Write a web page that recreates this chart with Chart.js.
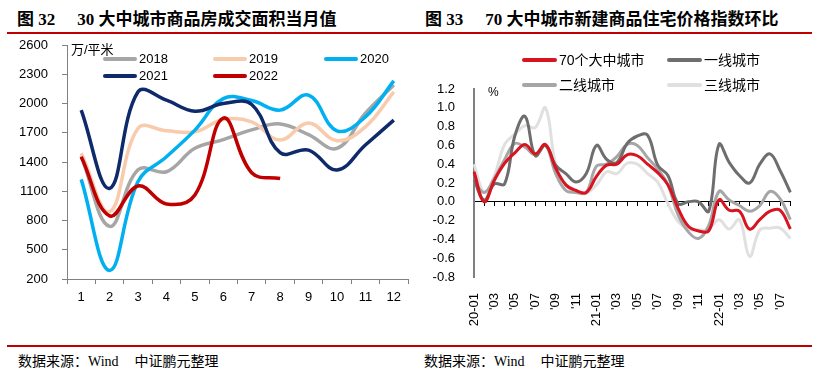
<!DOCTYPE html>
<html>
<head>
<meta charset="utf-8">
<script src="https://cdn.jsdelivr.net/npm/chart.js@4.4.0/dist/chart.umd.min.js"></script>
<style>
  body { margin: 0; background: #fff; width: 814px; height: 377px; position: relative; overflow: hidden;
         font-family: 'Liberation Sans', 'Noto Sans CJK SC', sans-serif; }
  canvas { position: absolute; top: 0; }
  .title { position: absolute; top: 5px; font: bold 17px 'Liberation Serif', 'Noto Sans CJK SC', serif; color: #000; white-space: nowrap; }
  .title span { margin-right: 22px; }
  .rule { position: absolute; height: 2px; background: #c00000; }
  .src { position: absolute; top: 350px; font: 14px 'Liberation Serif', 'Noto Sans CJK SC', serif; color: #000; white-space: nowrap; }
  .src b { font-weight: normal; margin-left: 16px; }
  .unit { position: absolute; font-size: 13px; color: #000; }
  .lg { position: absolute; font-size: 13px; color: #000; white-space: nowrap; line-height: 16px; }
  .lg i { display: inline-block; width: 34px; height: 4px; border-radius: 2px; vertical-align: middle; margin-right: 2px; position: relative; top: -1px; }
  .lg2 { font-size: 14px; }
  .lg2 i { width: 35px; }
</style>
</head>
<body>
<div class="title" style="left:17px"><span>图 32</span>30 大中城市商品房成交面积当月值</div>
<div class="title" style="left:425px"><span>图 33</span>70 大中城市新建商品住宅价格指数环比</div>
<div class="rule" style="left:7px; width:805px; top:32px"></div>
<div class="rule" style="left:7px; width:805px; top:345px"></div>
<div class="src" style="left:18px">数据来源：Wind<b>中证鹏元整理</b></div>
<div class="src" style="left:424px">数据来源：Wind<b>中证鹏元整理</b></div>

<canvas id="chart-area" width="410" height="340" style="left:0"></canvas>
<canvas id="chart-price" width="404" height="340" style="left:410px"></canvas>

<div class="unit" style="left:71px; top:39px">万/平米</div>
<div class="lg" style="left:103px; top:51px"><i style="background:#a6a6a6"></i>2018</div>
<div class="lg" style="left:213px; top:51px"><i style="background:#f8cbad"></i>2019</div>
<div class="lg" style="left:324px; top:51px"><i style="background:#00b0f0"></i>2020</div>
<div class="lg" style="left:103px; top:68px"><i style="background:#0e2a6b"></i>2021</div>
<div class="lg" style="left:213px; top:68px"><i style="background:#c00000"></i>2022</div>

<div class="unit" style="left:488px; top:85px; font-size:12px">%</div>
<div class="lg lg2" style="left:522px; top:52px"><i style="background:#d7141f"></i>70个大中城市</div>
<div class="lg lg2" style="left:667px; top:52px"><i style="background:#6e6e6e"></i>一线城市</div>
<div class="lg lg2" style="left:522px; top:77px"><i style="background:#a6a6a6"></i>二线城市</div>
<div class="lg lg2" style="left:667px; top:77px"><i style="background:#e0e0e0"></i>三线城市</div>

<script>
// 图32 数据 (万平米)
const months = ['1', '2', '3', '4', '5', '6', '7', '8', '9', '10', '11', '12'];
const area2018 = [1460, 740, 1320, 1300, 1540, 1630, 1730, 1790, 1680, 1540, 1900, 2190];
const area2019 = [1490, 890, 1745, 1720, 1710, 1836, 1812, 1625, 1800, 1618, 1760, 2120];
const area2020 = [1222, 288, 1200, 1454, 1727, 2050, 2030, 1932, 2085, 1720, 1863, 2232];
const area2021 = [1932, 1130, 2120, 2034, 1921, 2000, 1990, 1495, 1522, 1318, 1574, 1829];
const area2022 = [1454, 847, 1154, 970, 1062, 1850, 1290, 1230];
const areaTicks = [200, 500, 800, 1100, 1400, 1700, 2000, 2300, 2600];

// 图33 数据 (%)
const priceMonths = ['20-01', '20-02', '20-03', '20-04', '20-05', '20-06', '20-07', '20-08', '20-09', '20-10', '20-11', '20-12',
    '21-01', '21-02', '21-03', '21-04', '21-05', '21-06', '21-07', '21-08', '21-09', '21-10', '21-11', '21-12',
    '22-01', '22-02', '22-03', '22-04', '22-05', '22-06', '22-07', '22-08'];
const priceTickLabels = ['20-01', '', "'03", '', "'05", '', "'07", '', "'09", '', "'11", '',
    '21-01', '', "'03", '', "'05", '', "'07", '', "'09", '', "'11", '',
    '22-01', '', "'03", '', "'05", '', "'07", ''];
const city70 = [0.32, 0.00, 0.23, 0.41, 0.52, 0.61, 0.51, 0.61, 0.36, 0.18, 0.12, 0.10, 0.27, 0.39, 0.40, 0.50,
    0.49, 0.40, 0.31, 0.18, -0.07, -0.26, -0.31, -0.31, 0.02, -0.09, -0.10, -0.29, -0.19, -0.10, -0.09, -0.29];
const tier1 = [0.23, 0.02, 0.19, 0.19, 0.70, 0.91, 0.49, 0.60, 0.39, 0.30, 0.21, 0.30, 0.60, 0.45, 0.42, 0.62,
    0.70, 0.71, 0.39, 0.28, -0.02, 0.00, 0.00, -0.10, 0.61, 0.42, 0.28, 0.20, 0.40, 0.51, 0.33, 0.10];
const tier2 = [0.22, 0.10, 0.25, 0.45, 0.62, 0.58, 0.50, 0.60, 0.30, 0.12, 0.10, 0.10, 0.38, 0.40, 0.48, 0.61,
    0.60, 0.47, 0.35, 0.18, -0.14, -0.32, -0.39, -0.25, 0.11, 0.02, -0.04, -0.10, -0.04, 0.11, 0.03, -0.19];
const tier3 = [0.40, 0.10, 0.28, 0.61, 0.72, 0.81, 0.79, 1.00, 0.40, 0.18, 0.10, 0.09, 0.18, 0.32, 0.30, 0.41,
    0.40, 0.30, 0.21, -0.02, -0.21, -0.29, -0.30, -0.29, -0.19, -0.29, -0.19, -0.58, -0.30, -0.28, -0.28, -0.39];

Chart.defaults.font.family = "'Liberation Sans', 'Noto Sans CJK SC', sans-serif";
Chart.defaults.font.size = 13;
Chart.defaults.color = '#000';

const line = (data, color, width, order) => ({
    data: data,
    borderColor: color,
    borderWidth: width,
    pointRadius: 0,
    tension: 0.4,
    fill: false,
    order: order
});

const chartArea = document.getElementById('chart-area');
new Chart(chartArea.getContext('2d'), {
    type: 'line',
    data: {
        labels: months,
        datasets: [
            line(area2018, '#a6a6a6', 3.5, 5),
            line(area2019, '#f8cbad', 3.5, 4),
            line(area2020, '#00b0f0', 3.5, 3),
            line(area2021, '#0e2a6b', 3.5, 2),
            line(area2022, '#c00000', 3.5, 1)
        ]
    },
    options: {
        responsive: false,
        animation: false,
        devicePixelRatio: 1,
        layout: { padding: { top: 45, right: 2, left: 0, bottom: 0 } },
        plugins: { legend: { display: false }, tooltip: { enabled: false } },
        scales: {
            x: {
                offset: true,
                grid: { offset: true, drawOnChartArea: false, tickLength: 5, color: '#808080' },
                border: { color: '#808080', width: 1 },
                ticks: { padding: 6, maxRotation: 0 },
                afterFit: scale => { scale.height = 61; }
            },
            y: {
                min: 200,
                max: 2600,
                afterBuildTicks: scale => { scale.ticks = areaTicks.map(v => ({ value: v })); },
                grid: { drawOnChartArea: false, tickLength: 5, color: '#808080' },
                border: { color: '#808080', width: 1 },
                ticks: { padding: 14, callback: v => String(v) },
                afterFit: scale => { scale.width = 67; }
            }
        }
    }
});

const chartPrice = document.getElementById('chart-price');
new Chart(chartPrice.getContext('2d'), {
    type: 'line',
    data: {
        labels: priceMonths,
        datasets: [
            line(city70, '#d7141f', 3, 1),
            line(tier1, '#6e6e6e', 3, 2),
            line(tier2, '#a6a6a6', 3, 3),
            line(tier3, '#e0e0e0', 3, 4)
        ]
    },
    options: {
        responsive: false,
        animation: false,
        devicePixelRatio: 1,
        layout: { padding: { top: 89, right: 11, left: 0, bottom: 0 } },
        plugins: { legend: { display: false }, tooltip: { enabled: false } },
        scales: {
            x: {
                grid: { display: false },
                border: { display: false },
                ticks: {
                    autoSkip: false,
                    minRotation: 90,
                    maxRotation: 90,
                    padding: 8,
                    callback: (value, index) => priceTickLabels[index]
                },
                afterFit: scale => { scale.height = 63; }
            },
            x2: {
                type: 'category',
                axis: 'x',
                position: { y: 0 },
                grid: { drawOnChartArea: false, tickLength: 4, color: '#000' },
                border: { color: '#000', width: 1 },
                ticks: { display: false, autoSkip: false }
            },
            y: {
                min: -0.8,
                max: 1.2,
                ticks: { stepSize: 0.2, padding: 19, callback: v => v.toFixed(1) },
                grid: { drawOnChartArea: false, drawTicks: false },
                border: { color: '#808080', width: 2 },
                afterFit: scale => { scale.width = 64; }
            }
        }
    }
});
</script>
</body>
</html>
